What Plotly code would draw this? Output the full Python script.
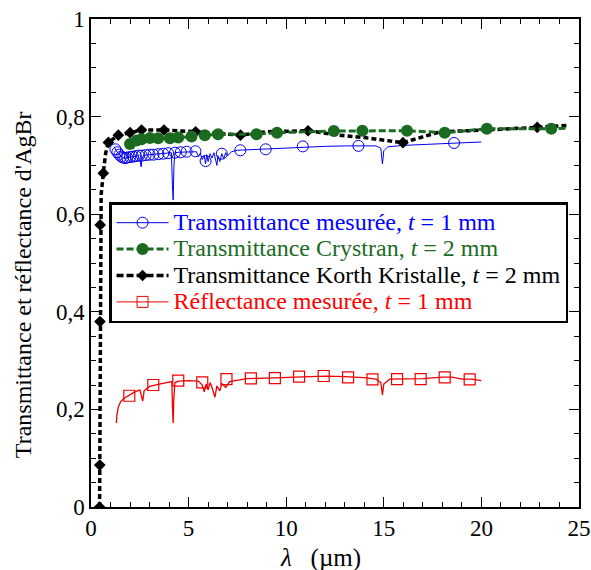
import plotly.graph_objects as go

# ---------------- data ----------------
# Transmittance mesurée, t = 1 mm (blue line)
TM_X = [1.18, 1.25, 1.35, 1.45, 1.55, 1.65, 1.75, 1.85, 2.0, 2.2, 2.4, 2.5, 2.57, 2.62, 2.7,
        3.0, 3.3, 3.6, 3.9, 4.12, 4.17, 4.21, 4.25, 4.3, 4.5, 5.0, 5.4, 5.5, 5.6, 5.7, 5.8,
        5.87, 5.93, 6.0, 6.1, 6.2, 6.3, 6.45, 6.5, 6.6, 6.7, 6.8, 6.9, 7.0, 7.2, 7.5, 8.0,
        9.0, 10.0, 11.0, 12.0, 13.0, 14.0, 14.6, 14.85, 14.93, 15.0, 15.2, 16.0, 17.0, 18.0,
        19.0, 20.0]
TM_Y = [0.738, 0.733, 0.727, 0.722, 0.718, 0.716, 0.715, 0.716, 0.717, 0.719, 0.720, 0.712,
        0.697, 0.715, 0.721, 0.722, 0.723, 0.724, 0.725, 0.726, 0.66, 0.629, 0.70, 0.726,
        0.727, 0.728, 0.728, 0.718, 0.725, 0.712, 0.72, 0.703, 0.722, 0.708, 0.724, 0.715,
        0.726, 0.70, 0.72, 0.708, 0.724, 0.714, 0.726, 0.72, 0.728, 0.731, 0.732, 0.733,
        0.735, 0.738, 0.739, 0.740, 0.740, 0.740, 0.735, 0.703, 0.73, 0.738, 0.741, 0.743,
        0.745, 0.746, 0.748]
TM_MX = [1.25, 1.35, 1.45, 1.55, 1.65, 1.75, 1.85, 2.0, 2.15, 2.3, 2.45, 2.6, 2.8, 3.0,
         3.2, 3.45, 3.7, 3.95, 4.3, 4.6, 4.9, 5.35, 5.87, 6.7, 7.65, 8.95, 10.85, 13.7, 18.6]
TM_MY = [0.733, 0.727, 0.722, 0.718, 0.716, 0.715, 0.716, 0.717, 0.718, 0.719, 0.720,
         0.720, 0.721, 0.722, 0.722, 0.723, 0.724, 0.725, 0.726, 0.727, 0.728, 0.729, 0.709,
         0.724, 0.731, 0.733, 0.739, 0.740, 0.746]

# Transmittance Crystran, t = 2 mm (green)
CR_X = [2.0, 2.34, 2.59, 3.02, 3.44, 4.04, 4.47, 5.15, 5.83, 6.51, 8.48, 9.53, 12.44,
        13.9, 16.19, 18.12, 20.28, 23.58, 24.35]
CR_Y = [0.744, 0.751, 0.7535, 0.756, 0.7555, 0.7555, 0.757, 0.759, 0.762, 0.7637, 0.764,
        0.767, 0.7705, 0.771, 0.771, 0.767, 0.775, 0.775, 0.776]
CR_MARK = [True] * 18 + [False]

# Transmittance Korth Kristalle, t = 2 mm (black)
KK_X = [0.44, 0.45, 0.46, 0.47, 0.52, 0.63, 0.75, 0.89, 1.40, 2.0, 2.59, 3.74, 5.36,
        7.66, 9.0, 11.12, 12.7, 14.0, 15.98, 17.9, 20.0, 22.86, 24.5]
KK_Y = [0.0, 0.086, 0.38, 0.578, 0.64, 0.684, 0.725, 0.747, 0.762, 0.767, 0.7725, 0.7725,
        0.769, 0.762, 0.769, 0.771, 0.762, 0.757, 0.7465, 0.769, 0.772, 0.778, 0.782]
KK_MARK = [True, True, True, True, False, True, False, True, True, True, True, True, True,
           True, False, True, False, False, True, False, False, True, False]

# Réflectance mesurée, t = 1 mm (red)
RM_X = [1.30, 1.33, 1.4, 1.52, 1.7, 1.9, 2.2, 2.5, 2.6, 2.65, 2.72, 3.0, 3.5, 4.0, 4.14,
        4.18, 4.21, 4.24, 4.3, 4.5, 5.0, 5.5, 5.7, 5.8, 5.9, 6.0, 6.1, 6.2, 6.35, 6.45, 6.6,
        6.7, 6.9, 7.1, 7.5, 8.0, 9.0, 10.0, 11.0, 12.0, 13.0, 14.0, 14.6, 14.85, 14.93,
        15.0, 15.3, 16.0, 17.0, 18.0, 18.5, 19.0, 19.5, 20.0]
RM_Y = [0.172, 0.19, 0.205, 0.216, 0.223, 0.228, 0.235, 0.240, 0.225, 0.217, 0.238, 0.247,
        0.252, 0.256, 0.257, 0.20, 0.172, 0.22, 0.255, 0.258, 0.259, 0.258, 0.250, 0.236,
        0.252, 0.240, 0.255, 0.245, 0.225, 0.248, 0.238, 0.253, 0.245, 0.257, 0.260, 0.263,
        0.264, 0.265, 0.267, 0.268, 0.267, 0.265, 0.262, 0.255, 0.2295, 0.252, 0.262,
        0.263, 0.263, 0.266, 0.266, 0.262, 0.262, 0.259]
RM_MX = [1.96, 3.19, 4.47, 5.70, 6.94, 8.19, 9.42, 10.66, 11.92, 13.17, 14.42, 15.68,
         16.89, 18.12, 19.40]
RM_MY = [0.228, 0.25, 0.259, 0.2555, 0.262, 0.2637, 0.264, 0.267, 0.2684, 0.2657, 0.2616,
         0.262, 0.262, 0.2657, 0.2616]

X_TICKS = [0, 5, 10, 15, 20, 25]
Y_TICKS = [0, 0.2, 0.4, 0.6, 0.8, 1]
Y_TICKTEXT = ["0", "0,2", "0,4", "0,6", "0,8", "1"]

NAMES = [
    '<span style="color:#0000ff;font-size:24px">Transmittance mesurée, <i>t</i> = 1 mm</span>',
    '<span style="color:#1a6b1f;font-size:24px">Transmittance Crystran, <i>t</i> = 2 mm</span>',
    '<span style="color:#000000;font-size:24px">Transmittance Korth Kristalle, <i>t</i> = 2 mm</span>',
    '<span style="color:#ff0000;font-size:24px">Réflectance mesurée, <i>t</i> = 1 mm</span>',
]
X_TITLE = "<i>λ</i>\u00a0\u00a0\u00a0(µm)"
Y_TITLE = "Transmittance et réflectance d'AgBr"

BLUE = "#0000ee"
GREEN = "#1a6b1f"
BLACK = "#000000"
RED = "#ee0000"
FONT = "Liberation Serif"

fig = go.Figure()

# red
fig.add_trace(go.Scatter(x=RM_X, y=RM_Y, mode="lines", line=dict(color=RED, width=1.3),
                         showlegend=False, hoverinfo="skip"))
fig.add_trace(go.Scatter(x=RM_MX, y=RM_MY, mode="markers", showlegend=False,
                         marker=dict(symbol="square-open", size=11, color=RED,
                                     line=dict(width=1.2, color=RED))))
# blue
fig.add_trace(go.Scatter(x=TM_X, y=TM_Y, mode="lines", line=dict(color=BLUE, width=1),
                         showlegend=False, hoverinfo="skip"))
fig.add_trace(go.Scatter(x=TM_MX, y=TM_MY, mode="markers", showlegend=False,
                         marker=dict(symbol="circle-open", size=11, color=BLUE,
                                     line=dict(width=1, color=BLUE))))
# black
fig.add_trace(go.Scatter(x=KK_X, y=KK_Y, mode="lines",
                         line=dict(color=BLACK, width=3.5, dash="5px,3px"),
                         showlegend=False, hoverinfo="skip"))
fig.add_trace(go.Scatter(x=[x for x, m in zip(KK_X, KK_MARK) if m],
                         y=[y for y, m in zip(KK_Y, KK_MARK) if m],
                         mode="markers", showlegend=False,
                         marker=dict(symbol="diamond", size=9, color=BLACK)))
# green
fig.add_trace(go.Scatter(x=CR_X, y=CR_Y, mode="lines",
                         line=dict(color=GREEN, width=3, dash="7px,3px"),
                         showlegend=False, hoverinfo="skip"))
fig.add_trace(go.Scatter(x=[x for x, m in zip(CR_X, CR_MARK) if m],
                         y=[y for y, m in zip(CR_Y, CR_MARK) if m],
                         mode="markers", showlegend=False,
                         marker=dict(symbol="circle", size=12, color=GREEN)))

# legend entries
fig.add_trace(go.Scatter(x=[None], y=[None], mode="lines+markers", name=NAMES[0],
                         line=dict(color=BLUE, width=1),
                         marker=dict(symbol="circle-open", size=11, color=BLUE)))
fig.add_trace(go.Scatter(x=[None], y=[None], mode="lines+markers", name=NAMES[1],
                         line=dict(color=GREEN, width=3, dash="7px,3px"),
                         marker=dict(symbol="circle", size=12, color=GREEN)))
fig.add_trace(go.Scatter(x=[None], y=[None], mode="lines+markers", name=NAMES[2],
                         line=dict(color=BLACK, width=3.5, dash="7px,3px"),
                         marker=dict(symbol="diamond", size=9, color=BLACK)))
fig.add_trace(go.Scatter(x=[None], y=[None], mode="lines+markers", name=NAMES[3],
                         line=dict(color=RED, width=1),
                         marker=dict(symbol="square-open", size=11, color=RED)))

axis_common = dict(
    showline=True, linecolor="black", linewidth=1.5, mirror="allticks",
    ticks="inside", ticklen=10, tickwidth=1.2, tickcolor="black",
    showgrid=False, zeroline=False,
    tickfont=dict(family=FONT, size=23, color="black"),
)

fig.update_xaxes(range=[0, 25], tickvals=X_TICKS, **axis_common,
                 minor=dict(dtick=1, ticks="inside", ticklen=5, tickcolor="black", tickwidth=1))
fig.update_yaxes(range=[0, 1], tickvals=Y_TICKS, ticktext=Y_TICKTEXT, **axis_common,
                 minor=dict(dtick=0.05, ticks="inside", ticklen=5, tickcolor="black", tickwidth=1))

fig.add_annotation(text=X_TITLE, xref="paper", yref="paper", x=0.471, y=-0.1045,
                   xanchor="center", yanchor="middle", showarrow=False,
                   font=dict(family=FONT, size=25, color="black"))
fig.add_annotation(text=Y_TITLE, xref="paper", yref="paper", x=-0.139, y=0.455,
                   xanchor="center", yanchor="middle", showarrow=False, textangle=-90,
                   font=dict(family=FONT, size=24, color="black"))

fig.update_layout(
    width=591, height=570,
    margin=dict(l=91, r=12, t=19, b=63, autoexpand=False),
    paper_bgcolor="white", plot_bgcolor="white",
    font=dict(family=FONT, size=23, color="black"),
    legend=dict(x=0.037, y=0.625, xanchor="left", yanchor="top",
                bgcolor="white", bordercolor="black", borderwidth=2.5,
                font=dict(family=FONT, size=18), tracegroupgap=0,
                itemwidth=52),
)

fig.write_html("out.html", config={"displayModeBar": False},
               post_script="document.body.style.margin='0';")
